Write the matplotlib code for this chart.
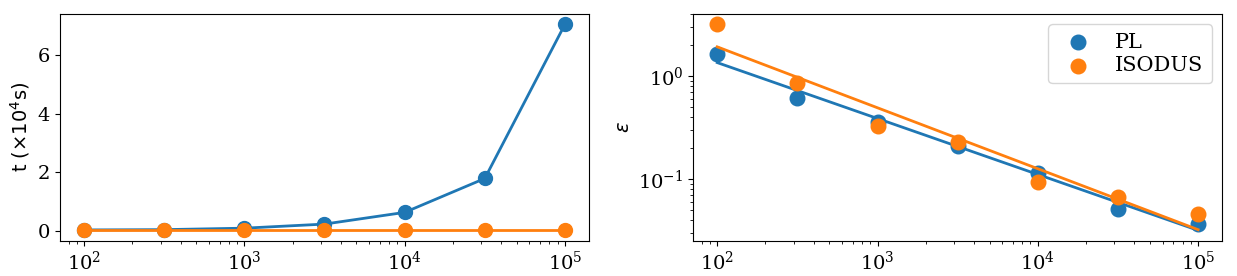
import numpy as np
import matplotlib
matplotlib.use("Agg")
import matplotlib.pyplot as plt

plt.rcParams['font.family'] = 'serif'
plt.rcParams['font.serif'] = ['DejaVu Serif']
plt.rcParams['mathtext.fontset'] = 'dejavuserif'
plt.rcParams['font.size'] = 14

# Data
n = [100, 316, 1000, 3162, 10000, 31623, 100000]
t_pl = [0.02, 0.03, 0.08, 0.22, 0.62, 1.78, 7.05]
t_isodus = [0.005, 0.005, 0.005, 0.005, 0.005, 0.005, 0.005]
eps_pl = [1.66, 0.62, 0.36, 0.21, 0.116, 0.052, 0.037]
eps_isodus = [3.2, 0.87, 0.33, 0.23, 0.095, 0.068, 0.046]
labels = ['PL', 'ISODUS']

blue = '#1f77b4'
orange = '#ff7f0e'

fig, (ax1, ax2) = plt.subplots(1, 2, figsize=(12.37, 2.76), dpi=100)
fig.subplots_adjust(left=0.0485, right=0.988, top=0.949, bottom=0.128, wspace=0.197)

ax1.plot(n, t_pl, 'o-', color=blue, markersize=10, linewidth=2)
ax1.plot(n, t_isodus, 'o-', color=orange, markersize=10, linewidth=2)
ax1.set_xscale('log')
ax1.set_ylabel(r't ($\times$10$^4$s)', fontfamily='DejaVu Sans', math_fontfamily='dejavusans')
ax1.set_yticks([0, 2, 4, 6])

nn = np.array(n, dtype=float)
for vals, c, lab in [(eps_pl, blue, labels[0]), (eps_isodus, orange, labels[1])]:
    ax2.scatter(n, vals, s=110, color=c, label=lab, zorder=2)
    p = np.polyfit(np.log10(nn), np.log10(vals), 1)
    xs = np.array([nn[0], nn[-1]])
    ax2.plot(xs, 10 ** np.polyval(p, np.log10(xs)), color=c, linewidth=2)
ax2.set_xscale('log')
ax2.set_yscale('log')
ax2.set_ylabel(r'$\varepsilon$', math_fontfamily='dejavusans')
ax2.legend(loc='upper right', fontsize=15, labelspacing=0.2)

fig.savefig('out.png', dpi=100)
